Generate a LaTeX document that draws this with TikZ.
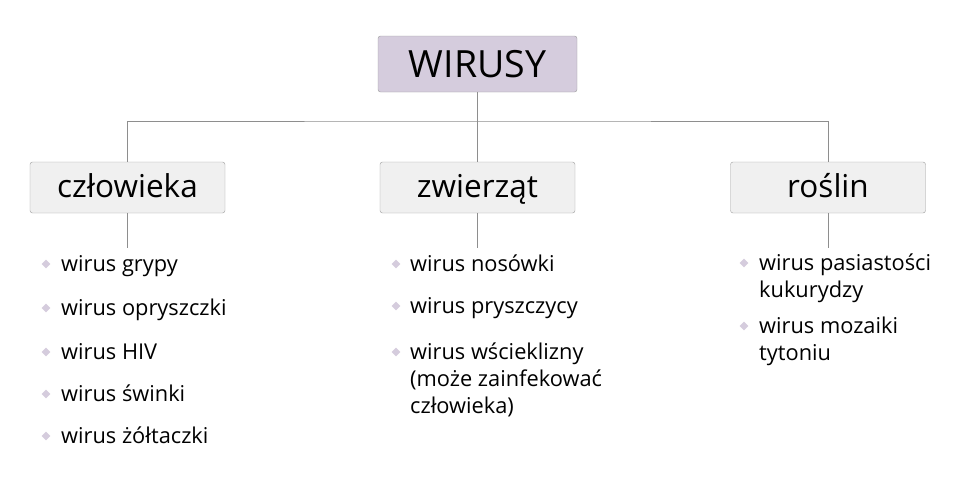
\documentclass[tikz,border=0pt]{standalone}
\usepackage{fontspec}
\setmainfont{Open Sans}
\usetikzlibrary{positioning,shapes.geometric}
\definecolor{lila}{HTML}{D5CCDD}
\definecolor{ramka}{HTML}{9C9C9C}
\definecolor{szary}{HTML}{F0F0F0}
\definecolor{linia}{HTML}{8E8E8E}
\tikzstyle{root}   = [rectangle, rounded corners=2.5pt, draw=ramka, fill=lila, minimum width=199pt, minimum height=56pt, text height=28pt, text depth=2pt, font=\fontsize{37.5}{40}\selectfont]
\tikzstyle{group}  = [rectangle, rounded corners=2.5pt, draw=ramka, fill=szary, minimum width=195pt, minimum height=51pt, text height=23pt, text depth=4pt, font=\fontsize{31.5}{36}\selectfont]
\tikzstyle{item}   = [anchor=base west, align=left, inner sep=0pt, font=\fontsize{21.8}{27}\selectfont]
\tikzstyle{bullet} = [diamond, fill=lila, inner sep=0pt, minimum size=9pt]
\tikzstyle{line}   = [draw=linia, line width=1pt]

\begin{document}
\begin{tikzpicture}[x=1pt,y=1pt]
        \useasboundingbox (0,0) rectangle (960,-479);

        \node[root]  (wirusy) at (477.5,-64)  {WIRUSY};
        \node[group] (czlowiek) at (127.5,-187.5) {człowieka};
        \node[group] (zwierz)   at (477.5,-187.5) {zwierząt};
        \node[group] (rosl)     at (828,-187.5)   {roślin};

        \coordinate (szyna) at (477.5,-121);
        \coordinate (k1) at (127.5,-248);
        \coordinate (k2) at (477.5,-248);
        \coordinate (k3) at (828,-248);

        \draw[line] (wirusy.south) -- (zwierz.north);
        \draw[line] (czlowiek.north) |- (szyna) -| (rosl.north);
        \draw[line] (czlowiek.south) -- (k1);
        \draw[line] (zwierz.south) -- (k2);
        \draw[line] (rosl.south) -- (k3);

        % człowieka
        \foreach \y/\t [count=\i] in {271/wirus grypy, 315/wirus opryszczki, 359/wirus HIV, 401/wirus świnki, 443/wirus żółtaczki} {
            \node[item] (c\i) at (61,-\y) {\t};
            \node[bullet] (cb\i) at (46,-\y+7) {};
        }

        % zwierząt (pierwsza linia / ostatnia linia)
        \foreach \y/\z/\t [count=\i] in {271/271/wirus nosówki, 313/313/wirus pryszczycy, 359/413/{wirus wścieklizny\\(może zainfekować\\człowieka)}} {
            \node[item] (z\i) at (410,-\z) {\t};
            \node[bullet] (zb\i) at (396,-\y+7) {};
        }

        % roślin
        \foreach \y/\z/\t [count=\i] in {270/297/{wirus pasiastości\\kukurydzy}, 333/360/{wirus mozaiki\\tytoniu}} {
            \node[item] (r\i) at (759,-\z) {\t};
            \node[bullet] (rb\i) at (744,-\y+7) {};
        }
\end{tikzpicture}
\end{document}
